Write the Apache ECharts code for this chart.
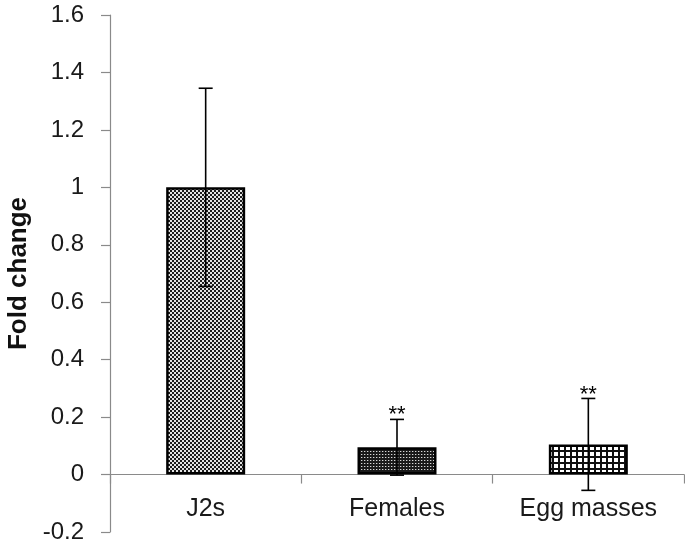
<!DOCTYPE html>
<html>
<head>
<meta charset="utf-8">
<script src="https://cdn.jsdelivr.net/npm/echarts@6/dist/echarts.min.js"></script>
<style>
html,body{margin:0;padding:0;background:#fff;}
#chart{width:685px;height:549px;}
</style>
</head>
<body>
<div id="chart"></div>
<script>
const categories = ['J2s', 'Females', 'Egg masses'];
const means = [1.0, 0.095, 0.105];
const errors = [0.345, 0.097, 0.16];
const significance = ['', '**', '**'];
const yTicks = { min: -0.2, max: 1.6, interval: 0.2 };

function makePattern(kind) {
  const c = document.createElement('canvas');
  const ctx = c.getContext('2d');
  if (kind === 'checker') {
    c.width = 4; c.height = 4;
    ctx.fillStyle = '#e4e4e4'; ctx.fillRect(0, 0, 4, 4);
    ctx.fillStyle = '#1c1c1c';
    ctx.fillRect(0, 0, 2, 2); ctx.fillRect(2, 2, 2, 2);
  } else if (kind === 'dots') {
    c.width = 3; c.height = 3;
    ctx.fillStyle = '#1a1a1a'; ctx.fillRect(0, 0, 3, 3);
    ctx.fillStyle = '#d8d8d8'; ctx.fillRect(1, 1, 1, 1);
    ctx.fillStyle = '#5a5a5a'; ctx.fillRect(2, 1, 1, 1);
  } else {
    c.width = 6; c.height = 6;
    ctx.fillStyle = '#ffffff'; ctx.fillRect(0, 0, 6, 6);
    ctx.fillStyle = '#111111';
    ctx.fillRect(0, 0, 2, 6); ctx.fillRect(0, 0, 6, 2);
  }
  return { image: c, repeat: 'repeat' };
}
const patterns = [makePattern('checker'), makePattern('dots'), makePattern('grid')];

const chart = echarts.init(document.getElementById('chart'), null, { renderer: 'canvas' });
const axisColor = '#8a8a8a';
const font = '"Liberation Sans", Arial, sans-serif';

const gridTop = 15, gridBottom = 17, H = 549;
const plotH = H - gridTop - gridBottom;
const zeroY = gridTop + plotH * (yTicks.max - 0) / (yTicks.max - yTicks.min);
const xOffset = -((H - gridBottom) - zeroY);

chart.setOption({
  animation: false,
  backgroundColor: '#ffffff',
  grid: { left: 110, right: 1, top: gridTop, bottom: gridBottom, containLabel: false, outerBoundsMode: 'none' },
  xAxis: {
    type: 'category',
    data: categories,
    position: 'bottom',
    offset: xOffset,
    boundaryGap: true,
    axisLine: { onZero: false, lineStyle: { color: axisColor, width: 1.2 } },
    axisTick: { show: true, length: 9, inside: false, alignWithLabel: false, lineStyle: { color: axisColor, width: 1.2 } },
    axisLabel: { show: true, margin: 22, fontSize: 25, color: '#1a1a1a', fontFamily: font },
    splitLine: { show: false }
  },
  yAxis: {
    type: 'value',
    min: yTicks.min, max: yTicks.max, interval: yTicks.interval,
    name: 'Fold change',
    nameLocation: 'middle',
    nameRotate: 90,
    nameGap: 67,
    nameTextStyle: { fontSize: 26, fontWeight: 'bold', color: '#111', fontFamily: font },
    axisLine: { show: true, lineStyle: { color: axisColor, width: 1.2 } },
    axisTick: { show: true, length: 9, inside: false, lineStyle: { color: axisColor, width: 1.2 } },
    axisLabel: { margin: 26, fontSize: 24, color: '#1a1a1a', fontFamily: font,
      formatter: v => String(Math.round(v * 10) / 10) },
    splitLine: { show: false }
  },
  series: [
    {
      type: 'bar',
      barWidth: 79,
      data: means.map((v, i) => ({
        value: v,
        itemStyle: { color: patterns[i], borderColor: '#000', borderWidth: 2.5 }
      })),
      z: 2
    },
    {
      type: 'custom',
      z: 5,
      data: means.map((m, i) => [i, m - errors[i], m + errors[i]]),
      renderItem: function (params, api) {
        const i = api.value(0);
        const lo = api.coord([i, api.value(1)]);
        const hi = api.coord([i, api.value(2)]);
        const x = lo[0];
        const half = 7;
        const style = { stroke: '#000', lineWidth: 1.6 };
        const children = [
          { type: 'line', shape: { x1: x, y1: lo[1], x2: x, y2: hi[1] }, style: style },
          { type: 'line', shape: { x1: x - half, y1: hi[1], x2: x + half, y2: hi[1] }, style: style },
          { type: 'line', shape: { x1: x - half, y1: lo[1], x2: x + half, y2: lo[1] }, style: style }
        ];
        const sig = significance[i];
        if (sig) {
          children.push({
            type: 'text',
            style: {
              text: sig, x: x, y: hi[1] - 4,
              textAlign: 'center', textVerticalAlign: 'middle',
              fontSize: 22, fontFamily: font, fill: '#000'
            }
          });
        }
        return { type: 'group', children: children };
      }
    }
  ]
});
</script>
</body>
</html>
